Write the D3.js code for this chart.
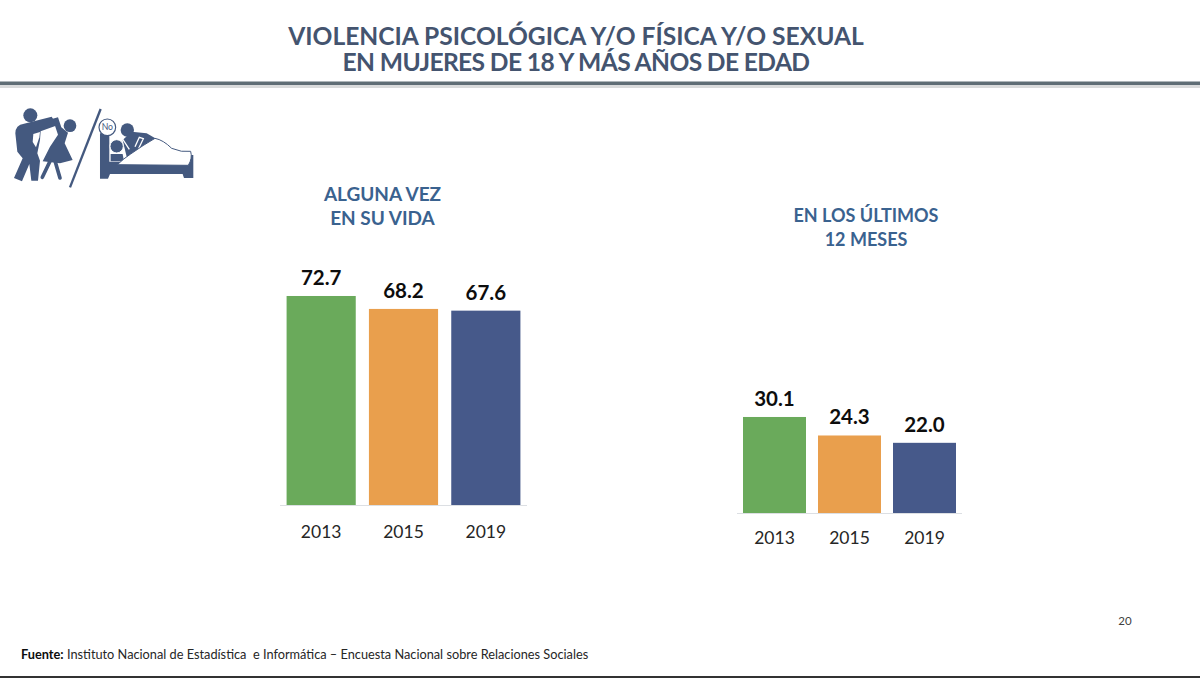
<!DOCTYPE html>
<html lang="es">
<head>
<meta charset="utf-8">
<title>Violencia contra las mujeres</title>
<script src="https://cdn.jsdelivr.net/npm/d3@7"></script>
<style>
html, body { margin: 0; padding: 0; background: #fff; }
svg { display: block; }
text { font-family: Lato, Carlito, "Open Sans", sans-serif; }
</style>
</head>
<body>
<script>
const titleLines = ["VIOLENCIA PSICOLÓGICA Y/O FÍSICA Y/O SEXUAL", "EN MUJERES DE 18 Y MÁS AÑOS DE EDAD"];
const years = ["2013", "2015", "2019"];
const lifetimeValues = [72.7, 68.2, 67.6];
const lastYearValues = [30.1, 24.3, 22.0];
const lifetimeHeading = ["ALGUNA VEZ", "EN SU VIDA"];
const lastYearHeading = ["EN LOS ÚLTIMOS", "12 MESES"];
const barColors = ["#6aaa5b", "#e99f4d", "#46598a"];
const iconColor = "#44597f";

const svg = d3.select("body").append("svg").attr("width", 1200).attr("height", 678);
svg.append("rect").attr("width", 1200).attr("height", 678).attr("fill", "#fff");

// Slide header: two centred lines above a heavy rule with a faint shadow
const title = svg.append("text")
  .attr("text-anchor", "middle")
  .attr("font-size", 24.6)
  .attr("font-weight", 700)
  .attr("fill", "#44546f");
title.selectAll("tspan").data(titleLines).join("tspan")
  .attr("x", 576)
  .attr("y", (d, i) => 45 + i * 25.5)
  .attr("letter-spacing", (d, i) => i === 1 ? -0.62 : 0)
  .text(d => d);

svg.append("rect").attr("x", 0).attr("y", 85).attr("width", 1200).attr("height", 3).attr("fill", "#d9dadb");
svg.append("rect").attr("x", 0).attr("y", 81.5).attr("width", 1200).attr("height", 3.5).attr("fill", "#5f6d75");

// One bar panel: band scale across, linear scale up from the baseline
function drawPanel({ values, heading, headingX, headingY, headingSize, x0, x1, baseline, pxPerUnit, tickY }) {
  const g = svg.append("g");
  const x = d3.scaleBand().domain(years).range([x0, x1]).paddingInner(0.16).paddingOuter(0.08);
  const y = d3.scaleLinear().domain([0, 100]).range([baseline, baseline - 100 * pxPerUnit]);

  g.selectAll("rect.bar").data(values).join("rect")
    .attr("class", "bar")
    .attr("x", (d, i) => x(years[i]))
    .attr("y", d => y(d))
    .attr("width", x.bandwidth())
    .attr("height", d => baseline - y(d))
    .attr("fill", (d, i) => barColors[i]);

  g.append("line")
    .attr("x1", x0).attr("x2", x1)
    .attr("y1", baseline + 0.5).attr("y2", baseline + 0.5)
    .attr("stroke", "#dcdfe3").attr("stroke-width", 1);

  g.selectAll("text.value").data(values).join("text")
    .attr("class", "value")
    .attr("x", (d, i) => x(years[i]) + x.bandwidth() / 2)
    .attr("y", d => y(d) - 11)
    .attr("text-anchor", "middle")
    .attr("font-size", 20.5)
    .attr("font-weight", 700)
    .attr("fill", "#0d0d0d")
    .text(d => d.toFixed(1));

  const axis = d3.axisBottom(x).tickSize(0).tickPadding(0);
  const axisG = g.append("g").attr("transform", `translate(0,${tickY})`).call(axis);
  axisG.select(".domain").remove();
  axisG.selectAll("text")
    .attr("dy", 0).attr("y", 0)
    .attr("font-size", 17.5)
    .attr("font-family", "Lato, Carlito, sans-serif")
    .attr("fill", "#262626");

  const head = g.append("text")
    .attr("text-anchor", "middle")
    .attr("font-size", headingSize)
    .attr("font-weight", 700)
    .attr("fill", "#3a628f");
  head.selectAll("tspan").data(heading).join("tspan")
    .attr("x", headingX)
    .attr("y", (d, i) => headingY + i * 24)
    .text(d => d);
}

drawPanel({ values: lifetimeValues, heading: lifetimeHeading, headingX: 382.5, headingY: 200.5, headingSize: 19,
  x0: 280, x1: 527, baseline: 505, pxPerUnit: 2.875, tickY: 538 });
drawPanel({ values: lastYearValues, heading: lastYearHeading, headingX: 866, headingY: 221.5, headingSize: 18,
  x0: 737, x1: 962, baseline: 513, pxPerUnit: 3.19, tickY: 544 });

// Pictogram of physical and sexual violence, drawn on a 3x grid
const icon = svg.append("g").attr("transform", "translate(0,90) scale(0.3333)");
icon.append("circle").attr("cx", 91).attr("cy", 76).attr("r", 21).attr("fill", iconColor);
icon.append("path").attr("fill", iconColor)
  .attr("d", "M46 130Q46 105 72 101L155 80L172 106L122 124L120 150L112 190L120 212L114 272L94 272L88 222L66 274L42 264L68 205L52 185Z");
icon.append("path").attr("fill", "#fff").attr("d", "M100 132L120 126L118 142L108 172L98 156Z");
icon.append("circle").attr("cx", 210).attr("cy", 107).attr("r", 19).attr("fill", iconColor);
icon.append("path").attr("fill", iconColor)
  .attr("d", "M158 86L174 82L184 112L204 128L194 160L218 210L180 220L128 214L150 170L174 134Z");
icon.append("path").attr("fill", "none").attr("stroke", iconColor).attr("stroke-width", 11).attr("stroke-linecap", "round")
  .attr("d", "M150 214L127 262M166 216L180 264");
icon.append("line").attr("x1", 302).attr("y1", 57).attr("x2", 210).attr("y2", 292)
  .attr("stroke", iconColor).attr("stroke-width", 7);

icon.append("path").attr("fill", iconColor)
  .attr("d", "M300 130L328 130L328 215L560 215L562 195L580 195L580 264L552 264L548 252L330 252L324 266L300 266Z");
icon.append("circle").attr("cx", 382).attr("cy", 120).attr("r", 20).attr("fill", iconColor);
icon.append("path").attr("fill", iconColor).attr("d", "M368 150L395 125L440 130L475 150L420 200L380 200Z");
icon.append("path").attr("fill", "none").attr("stroke", "#fff").attr("stroke-width", 4)
  .attr("d", "M362 138L388 178M405 170L418 142L430 146L414 180");
icon.append("circle").attr("cx", 350).attr("cy", 169).attr("r", 20).attr("fill", iconColor).attr("stroke", "#fff").attr("stroke-width", 3);
icon.append("path").attr("fill", iconColor).attr("d", "M332 192L368 192L372 214L332 214Z");
icon.append("path").attr("fill", "#fff").attr("stroke", iconColor).attr("stroke-width", 3)
  .attr("d", "M352 224Q372 205 392 192Q430 165 465 145Q490 150 515 175Q545 188 572 184Q578 205 565 226Z");
icon.append("circle").attr("cx", 322).attr("cy", 112).attr("r", 25).attr("fill", "#fff").attr("stroke", iconColor).attr("stroke-width", 3.5);
icon.append("text").attr("x", 322).attr("y", 121).attr("text-anchor", "middle")
  .attr("font-size", 26).attr("fill", iconColor).text("No");

// Page number, source note and bottom edge
svg.append("text").attr("x", 1125).attr("y", 625).attr("text-anchor", "middle")
  .attr("font-size", 11.5).attr("fill", "#404040").text("20");

const source = svg.append("text").attr("x", 21).attr("y", 658.5).attr("font-size", 12.75).attr("fill", "#262626");
source.append("tspan").attr("font-weight", 700).attr("fill", "#0d0d0d").text("Fuente:");
source.append("tspan").attr("xml:space", "preserve")
  .text(" Instituto Nacional de Estadística  e Informática – Encuesta Nacional sobre Relaciones Sociales");

svg.append("rect").attr("x", 0).attr("y", 676).attr("width", 1200).attr("height", 2).attr("fill", "#333");
</script>
</body>
</html>
